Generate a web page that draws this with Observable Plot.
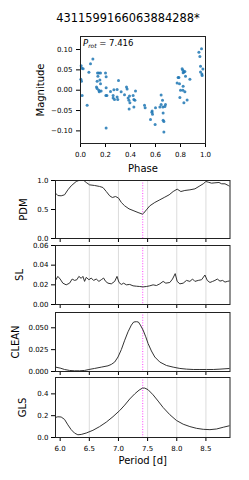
<!DOCTYPE html>
<html><head><meta charset="utf-8">
<script src="https://cdn.jsdelivr.net/npm/d3@7"></script>
<script src="https://cdn.jsdelivr.net/npm/@observablehq/plot@0.6"></script>
<style>
body{margin:0;background:#fff;width:249px;height:480px;position:relative;overflow:hidden;font-family:"DejaVu Sans",sans-serif}
.panel{position:absolute;left:0;top:0}
#title{position:absolute;left:0;width:256px;text-align:center;top:11px;font-size:11.4px;line-height:14px;color:#000}
</style></head><body>
<div id="title"></div>
<div id="p0" class="panel"></div>
<div id="p1" class="panel"></div>
<div id="p2" class="panel"></div>
<div id="p3" class="panel"></div>
<div id="p4" class="panel"></div>
<script>
const titleText = "4311599166063884288*";
const prot = 7.416;

// Phase-folded light curve
const phase = [0.005,0.011,0.021,0.003,0.008,0.013,0.053,0.067,0.080,0.099,0.128,0.133,0.139,0.147,0.160,0.136,0.133,0.147,0.150,0.160,0.155,0.165,0.200,0.205,0.205,0.203,0.211,0.205,0.240,0.267,0.261,0.261,0.272,0.293,0.304,0.293,0.298,0.325,0.352,0.368,0.373,0.381,0.387,0.392,0.395,0.389,0.421,0.427,0.435,0.440,0.427,0.512,0.517,0.560,0.576,0.571,0.573,0.600,0.597,0.635,0.645,0.656,0.645,0.659,0.661,0.661,0.667,0.667,0.675,0.680,0.773,0.781,0.787,0.792,0.795,0.800,0.813,0.819,0.821,0.827,0.835,0.819,0.821,0.827,0.835,0.840,0.853,0.875,0.947,0.955,0.960,0.968,0.960,0.971,0.973,0.979];
const mag = [0.060,0.054,0.053,0.027,0.022,-0.013,-0.037,0.044,0.065,0.077,0.008,0.022,0.034,0.042,0.042,0.042,0.004,0.000,-0.004,0.016,0.025,-0.002,0.042,0.033,0.006,-0.013,-0.013,-0.093,-0.003,0.001,-0.013,-0.019,-0.023,0.002,0.024,-0.017,-0.023,-0.004,-0.011,0.008,0.003,-0.019,-0.025,-0.014,-0.031,-0.046,-0.013,-0.023,-0.025,-0.002,-0.041,-0.037,-0.043,-0.072,-0.059,-0.054,-0.051,-0.043,-0.084,-0.041,-0.012,-0.025,-0.035,-0.041,-0.056,-0.074,-0.077,-0.103,-0.040,-0.035,0.018,0.031,0.031,0.016,-0.018,0.000,0.053,0.049,0.043,0.045,0.046,0.000,0.010,-0.031,-0.004,0.034,-0.024,0.027,0.093,0.083,0.059,0.102,0.045,0.040,0.036,0.052];
const phaseTicks = [0,0.2,0.4,0.6,0.8,1.0];
const magTicks = [-0.10,-0.05,0,0.05,0.10];

// Periodograms
const periodTicks = [6.0,6.5,7.0,7.5,8.0,8.5];
const gridPeriods = [6.5,7.0,7.5,8.0,8.5];

const pdmP = [5.920,5.960,6.017,6.075,6.132,6.189,6.275,6.333,6.401,6.447,6.505,6.591,6.677,6.734,6.791,6.849,6.894,6.952,7.003,7.049,7.107,7.181,7.250,7.336,7.411,7.433,7.479,7.537,7.623,7.709,7.795,7.869,7.938,8.007,8.070,8.139,8.225,8.311,8.397,8.454,8.500,8.540,8.597,8.655,8.724,8.770,8.827,8.884,8.913];
const pdmV = [0.782,0.741,0.736,0.753,0.839,0.908,0.983,1.005,1.005,0.966,0.925,0.914,0.897,0.879,0.810,0.736,0.707,0.724,0.695,0.621,0.563,0.511,0.483,0.448,0.420,0.437,0.494,0.563,0.621,0.667,0.713,0.753,0.810,0.851,0.810,0.828,0.839,0.856,0.908,0.943,0.983,0.971,0.954,0.960,0.966,0.943,0.943,0.914,0.897];

const slP = [5.920,5.960,6.000,6.046,6.103,6.161,6.206,6.247,6.287,6.321,6.361,6.390,6.419,6.447,6.493,6.533,6.573,6.619,6.665,6.705,6.745,6.780,6.820,6.877,6.935,6.975,7.009,7.049,7.089,7.135,7.193,7.250,7.307,7.365,7.422,7.479,7.537,7.594,7.651,7.709,7.766,7.812,7.881,7.927,7.973,8.007,8.053,8.110,8.167,8.225,8.271,8.311,8.368,8.426,8.483,8.523,8.569,8.615,8.655,8.695,8.741,8.787,8.827,8.867,8.913];
const slV = [0.0245,0.0286,0.0259,0.0217,0.0200,0.0217,0.0259,0.0245,0.0252,0.0286,0.0266,0.0286,0.0235,0.0276,0.0252,0.0269,0.0245,0.0259,0.0235,0.0252,0.0269,0.0235,0.0217,0.0210,0.0235,0.0286,0.0224,0.0204,0.0217,0.0200,0.0204,0.0190,0.0186,0.0183,0.0179,0.0183,0.0190,0.0200,0.0193,0.0210,0.0235,0.0217,0.0224,0.0259,0.0314,0.0235,0.0210,0.0217,0.0245,0.0235,0.0259,0.0235,0.0245,0.0252,0.0300,0.0245,0.0224,0.0235,0.0245,0.0259,0.0238,0.0245,0.0228,0.0235,0.0241];

const cleanP = [5.920,6.000,6.075,6.161,6.247,6.333,6.419,6.493,6.591,6.705,6.820,6.877,6.935,6.992,7.049,7.107,7.164,7.221,7.261,7.307,7.342,7.376,7.422,7.468,7.508,7.565,7.623,7.709,7.823,7.938,8.053,8.167,8.282,8.397,8.511,8.626,8.741,8.827,8.913];
const cleanV = [0.0050,0.0039,0.0023,0.0012,0.0008,0.0008,0.0012,0.0023,0.0035,0.0050,0.0065,0.0081,0.0108,0.0166,0.0250,0.0358,0.0454,0.0531,0.0566,0.0570,0.0566,0.0531,0.0474,0.0397,0.0320,0.0235,0.0166,0.0108,0.0069,0.0050,0.0035,0.0027,0.0023,0.0023,0.0023,0.0023,0.0027,0.0031,0.0035];

const glsP = [5.920,5.960,6.017,6.075,6.132,6.189,6.247,6.304,6.361,6.447,6.562,6.677,6.791,6.906,7.021,7.107,7.193,7.279,7.353,7.411,7.451,7.508,7.594,7.680,7.766,7.881,7.995,8.110,8.225,8.339,8.454,8.569,8.683,8.798,8.913];
const glsV = [0.184,0.190,0.188,0.166,0.116,0.072,0.040,0.025,0.028,0.041,0.066,0.100,0.141,0.191,0.247,0.297,0.353,0.400,0.434,0.453,0.453,0.438,0.391,0.334,0.275,0.209,0.156,0.122,0.100,0.084,0.075,0.072,0.078,0.094,0.109];

const FONT = "DejaVu Sans";
const baseStyle = {background: "transparent", fontFamily: FONT, fontSize: "7px", color: "#000", overflow: "visible"};

document.getElementById("title").textContent = titleText;

// ---- Phase plot ----
const phaseData = phase.map((p, i) => ({phase: p, mag: mag[i]}));
const ph = Plot.plot({
  width: 249, height: 180,
  marginTop: 36, marginBottom: 37, marginLeft: 80, marginRight: 44,
  style: baseStyle,
  x: {domain: [0, 1]},
  y: {domain: [-0.131, 0.132]},
  marks: [
    Plot.dot(phaseData, {x: "phase", y: "mag", r: 1.5, fill: "#1f77b4", fillOpacity: 0.85, stroke: null}),
    Plot.axisX(phaseTicks, {tickSize: 4, tickPadding: 5, tickFormat: d3.format(".1f"), label: null}),
    Plot.axisY(magTicks, {tickSize: 4, tickPadding: 4, tickFormat: d3.format(".2f"), label: null}),
    Plot.text(["Magnitude"], {text: d => d, frameAnchor: "left", dx: -40, rotate: -90, textAnchor: "middle", fontSize: 10}),
    Plot.text(["Phase"], {text: d => d, frameAnchor: "bottom", dy: 28, fontSize: 10}),
    Plot.text([prot], {text: d => "P = " + d, frameAnchor: "top-left", dx: 2.5, dy: 3, lineAnchor: "top", textAnchor: "start", fontSize: 8.5}),
    Plot.frame({stroke: "#222", strokeWidth: 1})
  ]
});
document.getElementById("p0").appendChild(ph);
// rich text for P_rot label
d3.select(ph).selectAll("text").filter(function(){ return this.textContent === "P = " + prot; })
  .each(function(){
    const t = d3.select(this);
    t.text(null);
    t.append("tspan").attr("font-style", "italic").text("P");
    t.append("tspan").attr("font-style", "italic").attr("font-size", "70%").attr("dy", "2.2").text("rot");
    t.append("tspan").attr("dy", "-2.2").text(" = " + prot);
  });

// ---- Periodogram panels ----
function panel(el, top, innerH, mb, yDomain, P, V, yTicks, yFmt, ylab, labDx, showX) {
  const data = P.map((p, i) => ({p, v: V[i]}));
  const chart = Plot.plot({
    width: 249, height: 6 + innerH + mb,
    marginTop: 6, marginBottom: mb, marginLeft: 55, marginRight: 19.5,
    style: baseStyle,
    x: {domain: [5.92, 8.913]},
    y: {domain: yDomain},
    marks: [
      Plot.ruleX(gridPeriods, {stroke: "#d3d3d3", strokeWidth: 0.8}),
      Plot.ruleX([prot], {stroke: "#ff00ff", strokeOpacity: 0.75, strokeWidth: 1, strokeDasharray: "1,1.6"}),
      Plot.line(data, {x: "p", y: "v", stroke: "#333", strokeWidth: 1, clip: true}),
      Plot.axisX(periodTicks, {tickSize: 4, tickPadding: 5, tickFormat: showX ? d3.format(".1f") : () => "", label: null}),
      Plot.axisY(yTicks, {tickSize: 4, tickPadding: 3, tickFormat: d3.format(yFmt), label: null}),
      Plot.text([ylab], {text: d => d, frameAnchor: "left", dx: labDx, rotate: -90, textAnchor: "middle", fontSize: 10}),
      showX ? Plot.text(["Period [d]"], {text: d => d, frameAnchor: "bottom", dy: 26, fontSize: 10}) : null,
      Plot.frame({stroke: "#222", strokeWidth: 1})
    ]
  });
  const div = document.getElementById(el);
  div.style.top = top + "px";
  div.appendChild(chart);
}

panel("p1", 174, 58, 6, [0, 1], pdmP, pdmV, [0, 0.5, 1.0], ".1f", "PDM", -32, false);
panel("p2", 239, 59, 6, [0, 0.06], slP, slV, [0, 0.02, 0.04, 0.06], ".2f", "SL", -36, false);
panel("p3", 306, 59, 6, [0, 0.0675], cleanP, cleanV, [0, 0.025, 0.05], ".3f", "CLEAN", -40, false);
panel("p4", 371, 60, 43, [0, 0.55], glsP, glsV, [0, 0.2, 0.4], ".1f", "GLS", -33, true);
</script>
</body></html>
